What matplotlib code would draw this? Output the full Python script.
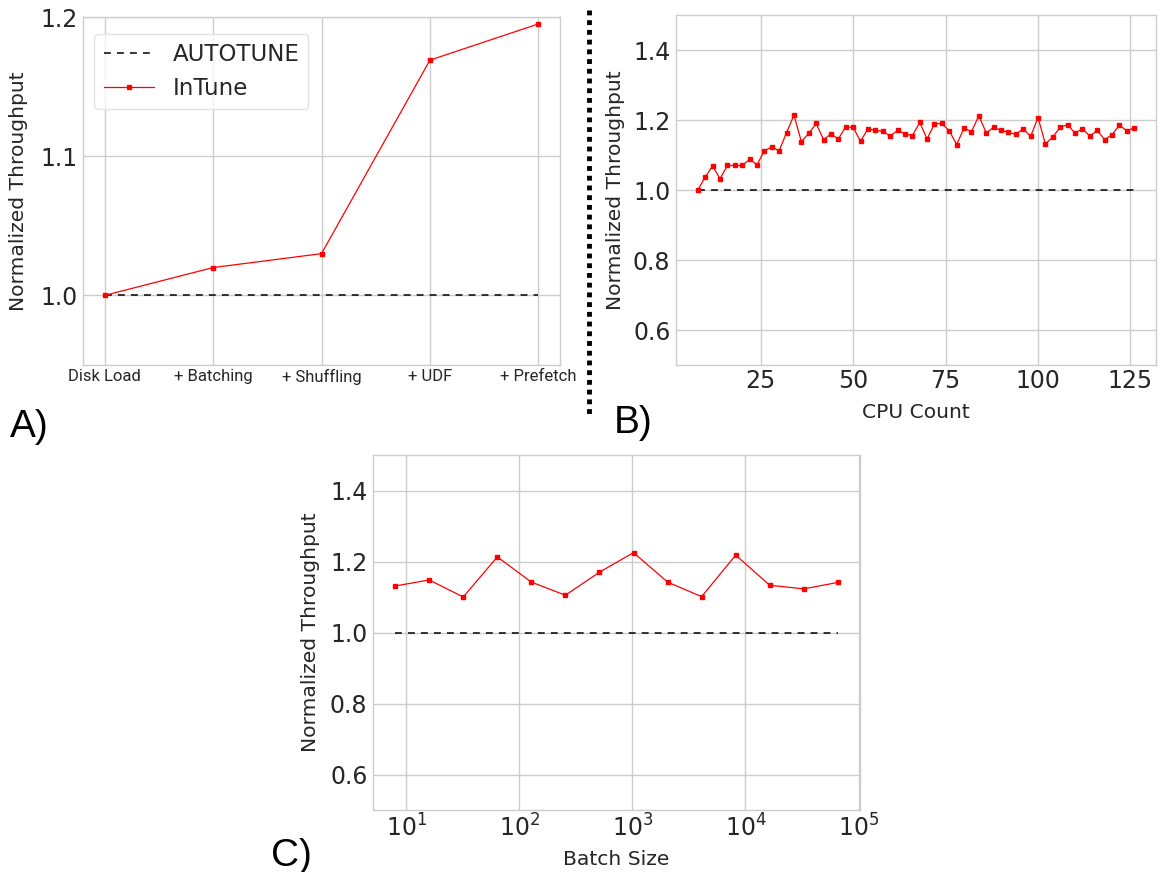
import numpy as np
import matplotlib
matplotlib.use('Agg')
from matplotlib import pyplot as plt
from matplotlib.lines import Line2D

# panel A: pipeline stages
stages = ['Disk Load', '+ Batching', '+ Shuffling', '+ UDF', '+ Prefetch']
intune_stages = [1.0, 1.02, 1.03, 1.169, 1.195]
autotune_stages = [1.0, 1.0, 1.0, 1.0, 1.0]

# panel B: CPU count sweep
cpu_count = list(range(8, 128, 2))
intune_cpu = [1.000, 1.037, 1.069, 1.032, 1.070, 1.070, 1.070, 1.088, 1.072, 1.112,
              1.123, 1.112, 1.164, 1.214, 1.138, 1.162, 1.190, 1.144, 1.160, 1.146,
              1.181, 1.179, 1.139, 1.175, 1.170, 1.168, 1.154, 1.170, 1.161, 1.155,
              1.193, 1.146, 1.189, 1.190, 1.169, 1.130, 1.177, 1.167, 1.212, 1.163,
              1.179, 1.170, 1.165, 1.159, 1.175, 1.153, 1.207, 1.131, 1.152, 1.179,
              1.187, 1.162, 1.175, 1.154, 1.170, 1.144, 1.158, 1.185, 1.169, 1.178]

# panel C: batch size sweep
batch_size = [8, 16, 32, 64, 128, 256, 512, 1024, 2048, 4096, 8192, 16384, 32768, 65536]
intune_batch = [1.131, 1.148, 1.100, 1.213, 1.142, 1.105, 1.170, 1.225,
                1.142, 1.101, 1.218, 1.133, 1.123, 1.141]

plt.rcParams.update({
    'font.family': 'DejaVu Sans',
    'axes.edgecolor': '#cccccc',
    'axes.linewidth': 1.0,
    'grid.color': '#cccccc',
    'grid.linewidth': 1.0,
    'text.color': '#262626',
    'axes.labelcolor': '#262626',
    'xtick.color': '#262626',
    'ytick.color': '#262626',
    'xtick.major.size': 0,
    'ytick.major.size': 0,
    'xtick.minor.size': 0,
    'ytick.minor.size': 0,
    'xtick.major.pad': 3,
    'ytick.major.pad': 4,
})

W, H = 1159, 872
fig = plt.figure(figsize=(W / 100, H / 100), dpi=100)


def px_axes(left, top, right, bottom):
    return fig.add_axes([left / W, 1 - bottom / H, (right - left) / W, (bottom - top) / H])


red_kw = dict(color='red', linewidth=0.9, marker='s', markersize=2.8)
dash_kw = dict(color='black', linestyle=(0, (4.5, 4)), linewidth=1.1)
lab_fs = 14.6

# A
axA = px_axes(83, 17, 560, 365)
xs = np.arange(len(stages))
axA.plot(xs, autotune_stages, label='AUTOTUNE', **dash_kw)
axA.plot(xs, intune_stages, label='InTune', **red_kw)
axA.set_xlim(-0.2, 4.2)
axA.set_ylim(0.95, 1.2)
axA.set_yticks([1.0, 1.1, 1.2])
axA.set_xticks(xs)
axA.set_xticklabels(stages, fontsize=12, family='Roboto', fontstretch='condensed')
axA.tick_params(axis='y', labelsize=17)
axA.set_ylabel('Normalized Throughput', fontsize=lab_fs, labelpad=9)
axA.grid(True)
axA.legend(loc='upper left', fontsize=16.5, handlelength=2.2, borderaxespad=0.5,
           frameon=True, edgecolor='#dddddd', bbox_to_anchor=(0.0, 0.985))

# B
axB = px_axes(676, 15, 1156, 365)
axB.plot(cpu_count, [1.0] * len(cpu_count), **dash_kw)
axB.plot(cpu_count, intune_cpu, **red_kw)
axB.set_ylim(0.5, 1.5)
axB.set_yticks([0.6, 0.8, 1.0, 1.2, 1.4])
axB.set_xticks([25, 50, 75, 100, 125])
axB.tick_params(labelsize=17)
axB.set_xlabel('CPU Count', fontsize=lab_fs, labelpad=7)
axB.set_ylabel('Normalized Throughput', fontsize=lab_fs, labelpad=6)
axB.grid(True)

# C
axC = px_axes(373, 455, 860, 810)
axC.plot(batch_size, [1.0] * len(batch_size), **dash_kw)
axC.plot(batch_size, intune_batch, **red_kw)
axC.set_xscale('log')
axC.set_ylim(0.5, 1.5)
axC.set_yticks([0.6, 0.8, 1.0, 1.2, 1.4])
axC.set_xticks([10, 100, 1000, 10000, 100000])
axC.minorticks_off()
axC.tick_params(labelsize=17)
axC.set_xlabel('Batch Size', fontsize=lab_fs, labelpad=6)
axC.set_ylabel('Normalized Throughput', fontsize=lab_fs, labelpad=7)
axC.grid(True)

for ax in (axA, axB, axC):
    for s in ax.spines.values():
        s.set_color('#cccccc')

# separator and panel letters
fig.add_artist(Line2D([589 / W, 589 / W], [1 - 10 / H, 1 - 415 / H], color='black',
                      linestyle=(0, (1, 1)), linewidth=3.5))
fig.text(10 / W, 1 - 437 / H, 'A)', fontsize=28, family='Liberation Sans', color='black')
fig.text(614 / W, 1 - 433 / H, 'B)', fontsize=28, family='Liberation Sans', color='black')
fig.text(271 / W, 1 - 866 / H, 'C)', fontsize=28, family='Liberation Sans', color='black')

fig.savefig('out.png', dpi=100)
